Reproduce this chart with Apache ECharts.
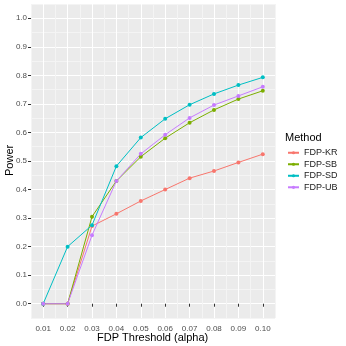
<html>
<head>
<script src="https://cdn.jsdelivr.net/npm/echarts@6/dist/echarts.min.js"></script>
</head>
<style>
    body { margin: 0; background: #fff; }
    #chart { width: 346px; height: 346px; }
</style>
<body>
<div id="chart"></div>
<script>
    const alphas = [0.01, 0.02, 0.03, 0.04, 0.05, 0.06, 0.07, 0.08, 0.09, 0.10]
    const methods = ['FDP-KR', 'FDP-SB', 'FDP-SD', 'FDP-UB']
    const kr = [0, 0, 0.272, 0.315, 0.360, 0.400, 0.440, 0.465, 0.495, 0.524]
    const sb = [0, 0, 0.305, 0.430, 0.515, 0.580, 0.634, 0.679, 0.717, 0.746]
    const sd = [0, 0.200, 0.275, 0.482, 0.582, 0.648, 0.697, 0.735, 0.766, 0.793]
    const ub = [0, 0, 0.240, 0.430, 0.525, 0.592, 0.651, 0.696, 0.728, 0.760]
    const yTicks = [0, 0.1, 0.2, 0.3, 0.4, 0.5, 0.6, 0.7, 0.8, 0.9, 1.0]
    const colors = ['#F8766D', '#7CAE00', '#00BFC4', '#C77CFF']

    const values = [kr, sb, sd, ub]
    const series = methods.map(function (m, i) {
        return {
            name: m,
            type: 'line',
            xAxisIndex: 0,
            yAxisIndex: 0,
            data: alphas.map(function (a, j) { return [a, values[i][j]] }),
            symbol: 'circle',
            symbolSize: 4,
            lineStyle: { width: 1, color: colors[i] },
            itemStyle: { color: colors[i] }
        }
    })

    const font = 'Liberation Sans'
    const labelStyle = { color: '#4d4d4d', fontSize: 8, fontFamily: font }
    // gridlines: minor (light) / major (white) alternating
    const gridColors = ['#F4F4F4', '#FFFFFF']
    const option = {
        animation: false,
        title: {
            text: 'Method', left: 285, top: 128, padding: 0,
            textStyle: { fontSize: 11, fontWeight: 'normal', color: '#000', fontFamily: font }
        },
        legend: {
            orient: 'vertical', left: 287, top: 145, padding: 0,
            itemWidth: 11, itemHeight: 4, itemGap: -4,
            data: methods,
            textStyle: { fontSize: 9, color: '#1a1a1a', fontFamily: font }
        },
        graphic: [{
            type: 'text', left: 97, top: 328,
            style: { text: 'FDP Threshold (alpha)', fontSize: 11, fill: '#000', fontFamily: font }
        }, {
            type: 'text', x: 0, y: 176, rotation: Math.PI / 2,
            style: { text: 'Power', fontSize: 11, fill: '#000', fontFamily: font }
        }],
        grid: {
            left: 31, right: 71, top: 4, bottom: 28, containLabel: false, outerBoundsMode: 'none',
            show: true, backgroundColor: '#EBEBEB', borderWidth: 0
        },
        xAxis: [{
            type: 'value', min: 0.005, max: 0.105,
            axisLine: { show: false },
            axisTick: { show: true, length: 3, lineStyle: { color: '#333' }, customValues: alphas },
            axisLabel: Object.assign({ margin: 4, customValues: alphas, formatter: function (v) { return v.toFixed(2) } }, labelStyle),
            splitLine: { show: false },
            z: 3
        }, {
            type: 'value', min: 0.005, max: 0.105, interval: 0.005, position: 'top',
            axisLine: { show: false }, axisTick: { show: false }, axisLabel: { show: false },
            splitLine: { show: true, lineStyle: { color: gridColors, width: 1 } }
        }],
        yAxis: [{
            type: 'value', min: -0.05, max: 1.05,
            axisLine: { show: false },
            axisTick: { show: true, length: 3, lineStyle: { color: '#333' }, customValues: yTicks },
            axisLabel: Object.assign({ margin: 4, customValues: yTicks, formatter: function (v) { return v.toFixed(1) } }, labelStyle),
            splitLine: { show: false },
            z: 3
        }, {
            type: 'value', min: -0.05, max: 1.05, interval: 0.05, position: 'right',
            axisLine: { show: false }, axisTick: { show: false }, axisLabel: { show: false },
            splitLine: { show: true, lineStyle: { color: gridColors, width: 1 } }
        }],
        series: series
    }
    const chart = echarts.init(document.getElementById('chart'))
    chart.setOption(option)
</script>
</body>
</html>
